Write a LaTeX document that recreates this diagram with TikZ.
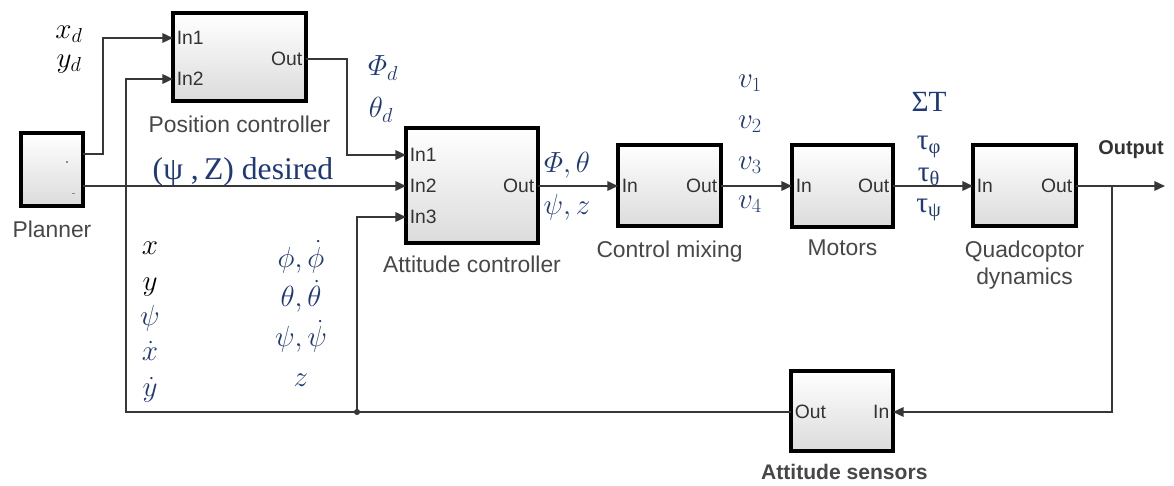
\documentclass[tikz,border=0pt]{standalone}
\usepackage{amsmath, amssymb}
\usepackage{fontspec}
\setmainfont{Liberation Serif}
\setsansfont{Liberation Sans}
\usepackage{tikz}
\usetikzlibrary{arrows.meta, positioning, calc, shadows}
\definecolor{sigblue}{RGB}{31,56,120}
\definecolor{wiregray}{RGB}{55,55,55}
\newcommand{\tightlines}{\setlength{\lineskiplimit}{-100pt}}

\begin{document}
\begin{tikzpicture}[
        x=0.03cm, y=-0.03cm,
        >={Triangle[length=9pt, width=8pt]},
        % Simulink-like blocks
        block/.style 2 args={draw=black, line width=3pt, top color=white, bottom color=black!14,
            minimum width=#1*0.03cm, minimum height=#2*0.03cm,
            drop shadow={opacity=0.2, shadow xshift=2pt, shadow yshift=-2pt}},
        port/.style={font=\sffamily\fontsize{16.5}{17}\selectfont, text=black!80, inner xsep=3pt, inner ysep=0pt},
        caption/.style={font=\sffamily\fontsize{19.5}{23}\selectfont, text=black!72, align=center, inner sep=0pt},
        sig/.style={->, draw=wiregray, line width=1.6pt},
        lbl/.style={font=\fontsize{25}{28}\selectfont, inner sep=0pt},
        blue lbl/.style={lbl, text=sigblue},
        % stacked state labels, fixed line pitch
        stack/.style={inner sep=0pt, align=center, anchor=north,
            font={\fontsize{25}{#1}\selectfont\tightlines}}
    ]
        \useasboundingbox (0,0) rectangle (1174,486);

        % Blocks
        \node[block={62}{73}] (plan) at (52,169.5) {};
        \node[block={133}{88}] (pos) at (239.5,57) {};
        \node[block={132}{115}] (att) at (472,185.5) {};
        \node[block={103}{81}] (mix) at (669.5,185.5) {};
        \node[block={101}{82}] (mot) at (842.5,186) {};
        \node[block={103}{81}] (quad) at (1024.5,185.5) {};
        \node[block={102}{80}] (sens) at (842,411) {};

        % Block captions
        \node[caption, below=11pt of plan] (plan-cap) {Planner};
        \node[caption, below=11pt of pos] (pos-cap) {Position controller};
        \node[caption, below=9.5pt of att] (att-cap) {Attitude controller};
        \node[caption, below=11pt of mix] (mix-cap) {Control mixing};
        \node[caption, below=9.5pt of mot] (mot-cap) {Motors};
        \node[caption, below=11pt of quad] (quad-cap) {Quadcoptor\\dynamics};
        \node[caption, font=\sffamily\bfseries\fontsize{18}{22}\selectfont, below=9.5pt of sens, xshift=2pt] (sens-cap) {Attitude sensors};

        % Ports
        \fill[black!45] (66,161) rectangle (68,163);
        \fill[black!45] (72,193) rectangle (75,194);
        \coordinate (plan-o1) at (83,154);
        \coordinate (plan-o2) at (83,186);
        \node[port, anchor=west] (pos-in1) at (173,38) {In1};
        \node[port, anchor=west] (pos-in2) at (173,79) {In2};
        \node[port, anchor=east] (pos-out) at (306,59) {Out};
        \node[port, anchor=west] (att-in1) at (406,155) {In1};
        \node[port, anchor=west] (att-in2) at (406,186) {In2};
        \node[port, anchor=west] (att-in3) at (406,217) {In3};
        \node[port, anchor=east] (att-out) at (538,186) {Out};
        \node[port, anchor=west] (mix-in) at (618,186) {In};
        \node[port, anchor=east] (mix-out) at (721,186) {Out};
        \node[port, anchor=west] (mot-in) at (792,186) {In};
        \node[port, anchor=east] (mot-out) at (893,186) {Out};
        \node[port, anchor=west] (quad-in) at (973,186) {In};
        \node[port, anchor=east] (quad-out) at (1076,186) {Out};
        \node[port, anchor=west] (sens-out) at (791,412) {Out};
        \node[port, anchor=east] (sens-in) at (893,412) {In};

        % Signal lines
        \coordinate (fork-a) at (103,154);
        \coordinate (fork-b) at (347,59);
        \coordinate (branch) at (1112,186);
        \coordinate (out-end) at (1165,186);
        \coordinate (fb-corner) at (126,412);
        \coordinate (fb-dot) at (357,412);

        \draw[sig] (plan-o1) -- (fork-a) |- (pos-in1.west);
        \draw[sig] (plan-o2) -- (att-in2.west);
        \draw[sig] (pos-out.east) -- (fork-b) |- (att-in1.west);
        \draw[sig] (att-out.east) -- (mix-in.west);
        \draw[sig] (mix-out.east) -- (mot-in.west);
        \draw[sig] (mot-out.east) -- (quad-in.west);
        \draw[sig] (quad-out.east) -- (out-end);
        \draw[sig] (branch) |- (sens-in.east);
        \draw[sig] (sens-out.west) -- (fb-corner) |- (pos-in2.west);
        \draw[sig] (fb-dot) |- (att-in3.west);
        \fill[wiregray] (fb-dot) circle (2.6pt);

        \node[font=\sffamily\bfseries\fontsize{17}{20}\selectfont, text=black!80] (out-lbl) at (1131,150) {Output};

        % Signal labels
        \node[lbl] (xd) at (69,34) {$x_d$};
        \node[lbl] (yd) at (69,64) {$y_d$};
        \node[blue lbl] (phid) at (383,68) {$\varPhi_d$};
        \node[blue lbl] (thetad) at (381,110) {$\theta_d$};
        \node[blue lbl, font=\fontsize{27}{30}\selectfont] (desired) at (243,172) {(ψ ,\,Z) desired};
        \node[blue lbl] (att-o1) at (567,165) {$\varPhi,\theta$};
        \node[blue lbl] (att-o2) at (567,207) {$\psi,z$};
        \node[blue lbl] (v1) at (750,83) {$v_1$};
        \node[blue lbl] (v2) at (750,124) {$v_2$};
        \node[blue lbl] (v3) at (750,165) {$v_3$};
        \node[blue lbl] (v4) at (750,204) {$v_4$};
        \node[blue lbl] (thrust) at (929,102) {ΣT};
        \node[blue lbl] (tau-phi) at (929,147) {τ\textsubscript{φ}};
        \node[blue lbl] (tau-theta) at (929,177) {τ\textsubscript{θ}};
        \node[blue lbl] (tau-psi) at (929,210) {τ\textsubscript{ψ}};

        % Fed-back states
        \node[stack=30.2pt] (fb-pos) at (150,242) {$x$\\$y$\\\textcolor{sigblue}{$\psi$}\\\textcolor{sigblue}{$\dot{x}$}\\\textcolor{sigblue}{$\dot{y}$}};
        \node[stack=34pt, text=sigblue] (fb-att) at (301,240) {$\phi,\dot{\phi}$\\$\theta,\dot{\theta}$\\$\psi,\dot{\psi}$\\$z$};

    \end{tikzpicture}
\end{document}
